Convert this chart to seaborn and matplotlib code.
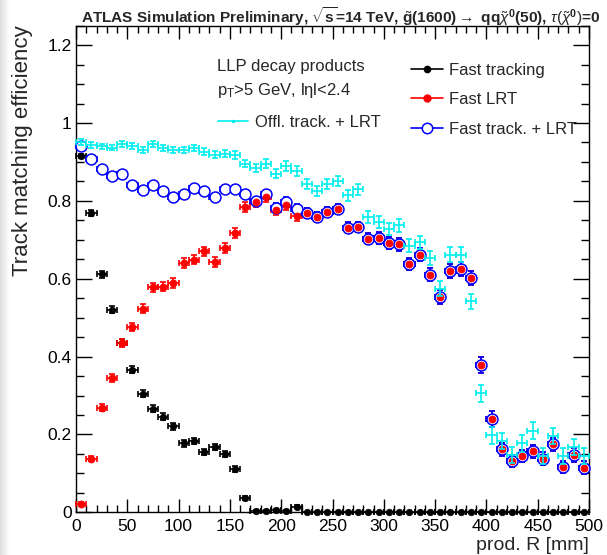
import numpy as np
import pandas as pd
import matplotlib
matplotlib.use("Agg")
import matplotlib.pyplot as plt
import seaborn as sns
from matplotlib.lines import Line2D
from matplotlib.ticker import MultipleLocator, FixedLocator

# ---------------- data ----------------
bin_centers = [5, 15, 25, 35, 45, 55, 65, 75, 85, 95,
               105, 115, 125, 135, 145, 155, 165, 175, 185, 195,
               205, 215, 225, 235, 245, 255, 265, 275, 285, 295,
               305, 315, 325, 335, 345, 355, 365, 375, 385, 395,
               405, 415, 425, 435, 445, 455, 465, 475, 485, 495]
bin_half_width = 5

fast_tracking = [0.915, 0.768, 0.611, 0.520, 0.435, 0.366, 0.304, 0.266, 0.246, 0.221,
                 0.177, 0.183, 0.154, 0.167, 0.149, 0.111, 0.036, 0.004, 0.004, 0.006,
                 0.004, 0.014, 0.0, 0.0, 0.0, 0.0, 0.0, 0.0, 0.0, 0.0,
                 0.0, 0.0, 0.0, 0.0, 0.0, 0.0, 0.0, 0.0, 0.0, 0.0,
                 0.0, 0.0, 0.0, 0.0, 0.0, 0.0, 0.0, 0.0, 0.0, 0.0]
fast_tracking_err = [0.006, 0.008, 0.009, 0.009, 0.009, 0.009, 0.009, 0.009, 0.009, 0.009,
                     0.008, 0.008, 0.008, 0.008, 0.008, 0.008, 0.005, 0.002, 0.002, 0.003,
                     0.002, 0.004, 0.0, 0.0, 0.0, 0.0, 0.0, 0.0, 0.0, 0.0,
                     0.0, 0.0, 0.0, 0.0, 0.0, 0.0, 0.0, 0.0, 0.0, 0.0,
                     0.0, 0.0, 0.0, 0.0, 0.0, 0.0, 0.0, 0.0, 0.0, 0.0]

fast_lrt = [0.022, 0.138, 0.268, 0.345, 0.435, 0.476, 0.523, 0.578, 0.580, 0.589,
            0.640, 0.649, 0.670, 0.643, 0.679, 0.718, 0.784, 0.797, 0.810, 0.776,
            0.790, 0.762, 0.769, 0.759, 0.771, 0.780, 0.731, 0.733, 0.703, 0.705,
            0.692, 0.688, 0.638, 0.662, 0.610, 0.553, 0.620, 0.624, 0.602, 0.378,
            0.239, 0.162, 0.132, 0.144, 0.157, 0.138, 0.175, 0.117, 0.147, 0.115]
fast_lrt_err = [0.004, 0.007, 0.009, 0.010, 0.011, 0.011, 0.012, 0.012, 0.012, 0.012,
                0.012, 0.012, 0.012, 0.012, 0.012, 0.013, 0.012, 0.012, 0.012, 0.013,
                0.013, 0.013, 0.013, 0.013, 0.013, 0.013, 0.014, 0.014, 0.015, 0.015,
                0.015, 0.016, 0.016, 0.016, 0.017, 0.018, 0.018, 0.018, 0.019, 0.020,
                0.020, 0.017, 0.016, 0.016, 0.017, 0.016, 0.017, 0.015, 0.017, 0.016]

fast_track_lrt = [0.941, 0.908, 0.881, 0.864, 0.870, 0.841, 0.828, 0.841, 0.825, 0.811,
                  0.817, 0.832, 0.825, 0.810, 0.830, 0.830, 0.818, 0.800, 0.817, 0.782,
                  0.798, 0.778, 0.769, 0.759, 0.771, 0.780, 0.731, 0.733, 0.703, 0.705,
                  0.692, 0.688, 0.638, 0.662, 0.610, 0.553, 0.620, 0.624, 0.602, 0.378,
                  0.239, 0.162, 0.132, 0.144, 0.157, 0.138, 0.175, 0.117, 0.147, 0.115]
fast_track_lrt_err = [0.005, 0.006, 0.007, 0.007, 0.007, 0.008, 0.008, 0.008, 0.008, 0.009,
                      0.009, 0.009, 0.009, 0.009, 0.010, 0.010, 0.011, 0.011, 0.012, 0.012,
                      0.013, 0.013, 0.013, 0.013, 0.013, 0.013, 0.014, 0.014, 0.015, 0.015,
                      0.015, 0.016, 0.016, 0.016, 0.017, 0.018, 0.018, 0.018, 0.019, 0.020,
                      0.020, 0.017, 0.016, 0.016, 0.017, 0.016, 0.017, 0.015, 0.017, 0.016]

offl_track_lrt = [0.951, 0.943, 0.940, 0.937, 0.946, 0.941, 0.931, 0.946, 0.935, 0.931,
                  0.931, 0.935, 0.926, 0.918, 0.921, 0.917, 0.896, 0.884, 0.896, 0.870,
                  0.890, 0.877, 0.844, 0.825, 0.844, 0.851, 0.814, 0.830, 0.758, 0.745,
                  0.728, 0.737, 0.685, 0.694, 0.654, 0.574, 0.662, 0.662, 0.542, 0.306,
                  0.198, 0.183, 0.147, 0.177, 0.210, 0.144, 0.196, 0.144, 0.167, 0.145]
offl_track_lrt_err = [0.007, 0.007, 0.007, 0.007, 0.007, 0.007, 0.008, 0.008, 0.008, 0.008,
                      0.008, 0.008, 0.009, 0.009, 0.009, 0.010, 0.010, 0.011, 0.011, 0.012,
                      0.012, 0.012, 0.013, 0.013, 0.013, 0.013, 0.014, 0.014, 0.015, 0.015,
                      0.016, 0.016, 0.017, 0.017, 0.018, 0.019, 0.019, 0.019, 0.020, 0.022,
                      0.022, 0.021, 0.020, 0.021, 0.022, 0.020, 0.021, 0.020, 0.021, 0.021]

x_ticks = [0, 50, 100, 150, 200, 250, 300, 350, 400, 450, 500]
x_tick_labels = ["0", "50", "100", "150", "200", "250", "300", "350", "400", "450", "500"]
y_ticks = [0.0, 0.2, 0.4, 0.6, 0.8, 1.0, 1.2]
y_tick_labels = ["0", "0.2", "0.4", "0.6", "0.8", "1", "1.2"]

# ---------------- style ----------------
sns.set_theme(style="ticks")
plt.rcParams['font.family'] = ['Liberation Sans', 'DejaVu Sans']
plt.rcParams['mathtext.fontset'] = 'custom'
plt.rcParams['mathtext.rm'] = 'Liberation Sans'
plt.rcParams['mathtext.it'] = 'Liberation Sans:italic'
plt.rcParams['mathtext.bf'] = 'Liberation Sans:bold'

C_BLACK = "#000000"
C_RED = "#ff0000"
C_BLUE = "#0000ff"
C_CYAN = "#00eeee"

W, H = 607, 555
fig = plt.figure(figsize=(W / 100, H / 100), dpi=100)
ax_left, ax_right, ax_top, ax_bottom = 76, 589, 25.7, 512.3
ax = fig.add_axes([ax_left / W, 1 - ax_bottom / H, (ax_right - ax_left) / W, (ax_bottom - ax_top) / H])


def fx(px):
    return (px - ax_left) / (ax_right - ax_left)


def fy(py):
    return 1 - (py - ax_top) / (ax_bottom - ax_top)


# faint shadow at the left edge
grad = np.linspace(0.88, 1.0, 10)
shadow = np.tile(grad, (H, 1))
fig.figimage(np.dstack([shadow, shadow, shadow]), xo=0, yo=0, origin='upper', zorder=0)

df = pd.DataFrame({
    "R": bin_centers,
    "fast_tracking": fast_tracking,
    "fast_lrt": fast_lrt,
    "fast_track_lrt": fast_track_lrt,
    "offl_track_lrt": offl_track_lrt,
})


def bars(y, yerr, color, z, lw=1.2, cap=2.5):
    cont = ax.errorbar(df["R"], y, yerr=yerr, xerr=bin_half_width, fmt='none',
                       ecolor=color, elinewidth=lw, capsize=cap, capthick=lw, zorder=z)
    for art in cont.get_children():
        art.set_clip_on(False)
    return cont


# black: fast tracking
bars(df["fast_tracking"], fast_tracking_err, C_BLACK, 3)
sns.scatterplot(data=df, x="R", y="fast_tracking", ax=ax, color=C_BLACK, s=22,
                edgecolor=C_BLACK, linewidth=0.5, zorder=4, clip_on=False, legend=False)

# red: fast LRT (bars)
bars(df["fast_lrt"], fast_lrt_err, C_RED, 5)
# blue: fast tracking + LRT
bars(df["fast_track_lrt"], fast_track_lrt_err, C_BLUE, 6)
sns.scatterplot(data=df, x="R", y="fast_track_lrt", ax=ax, color="white", s=62,
                edgecolor=C_BLUE, linewidth=1.1, zorder=7, clip_on=False, legend=False)
# red markers on top
sns.scatterplot(data=df, x="R", y="fast_lrt", ax=ax, color=C_RED, s=26,
                edgecolor=C_RED, linewidth=0.5, zorder=8, clip_on=False, legend=False)
# cyan: offline tracking + LRT
bars(df["offl_track_lrt"], offl_track_lrt_err, C_CYAN, 9)

# ---------------- axes ----------------
ax.set_xlim(0, 500)
ax.set_ylim(0, 1.25)
ax.xaxis.set_major_locator(FixedLocator(x_ticks))
ax.set_xticklabels(x_tick_labels)
ax.xaxis.set_minor_locator(MultipleLocator(10))
ax.yaxis.set_major_locator(FixedLocator(y_ticks))
ax.set_yticklabels(y_tick_labels)
ax.yaxis.set_minor_locator(MultipleLocator(0.05))
ax.tick_params(which='both', direction='in', top=True, right=True, colors='black',
               labelsize=12.5, width=1.0)
ax.tick_params(axis='y', which='major', length=11.3, pad=3)
ax.tick_params(axis='y', which='minor', length=5.8)
ax.tick_params(axis='x', which='major', length=9.4, pad=5)
ax.tick_params(axis='x', which='minor', length=4.8)
for sp in ax.spines.values():
    sp.set_linewidth(1.0)
    sp.set_color('black')
ax.set_facecolor('white')

ax.set_ylabel("Track matching efficiency", fontsize=16, loc='top')
ax.yaxis.set_label_coords(-0.084, 1.0)
ax.set_xlabel("prod. R [mm]", fontsize=14, loc='right')
ax.xaxis.set_label_coords(1.0, -0.051)

# title
fig.text(81 / W, 1 - 22.5 / H,
         r"ATLAS Simulation Preliminary, $\sqrt{\mathbf{s}}$=14 TeV, "
         r"$\tilde{\mathbf{g}}$(1600)$\rightarrow$ qq$\tilde{\chi}^{\mathbf{0}}$(50), "
         r"$\tau(\tilde{\chi}^{\mathbf{0}})$=0",
         fontsize=11.1, fontweight='bold', ha='left', va='baseline')

# annotation text
ax.text(fx(216.7), fy(67), "LLP decay products", transform=ax.transAxes,
        fontsize=12, ha='left', va='center')
ax.text(fx(216.7), fy(91), r"p$_{\mathrm{T}}$>5 GeV, lηl<2.4", transform=ax.transAxes,
        fontsize=12, ha='left', va='center')

# legends
h_right = [
    Line2D([], [], color=C_BLACK, lw=1.2, marker='o', markersize=4.5),
    Line2D([], [], color=C_RED, lw=1.2, marker='o', markersize=5),
    Line2D([], [], color=C_BLUE, lw=1.2, marker='o', markersize=7.5,
           markerfacecolor='white', markeredgewidth=1.1),
]
leg1 = ax.legend(h_right, ["Fast tracking", "Fast LRT", "Fast track. + LRT"],
                 loc='upper left', bbox_to_anchor=(411 / W, 1 - 63 / H),
                 bbox_transform=fig.transFigure, frameon=False, fontsize=12,
                 handlelength=1.9, handletextpad=0.4, labelspacing=0.86,
                 borderpad=0, borderaxespad=0)
ax.add_artist(leg1)
h_left = [Line2D([], [], color=C_CYAN, lw=1.2, marker='o', markersize=1.5)]
ax.legend(h_left, ["Offl. track. + LRT"], loc='upper left',
          bbox_to_anchor=(218 / W, 1 - 115 / H), bbox_transform=fig.transFigure,
          frameon=False, fontsize=12, handlelength=1.8, handletextpad=0.4,
          borderpad=0, borderaxespad=0)

fig.savefig("out.png", dpi=100)
